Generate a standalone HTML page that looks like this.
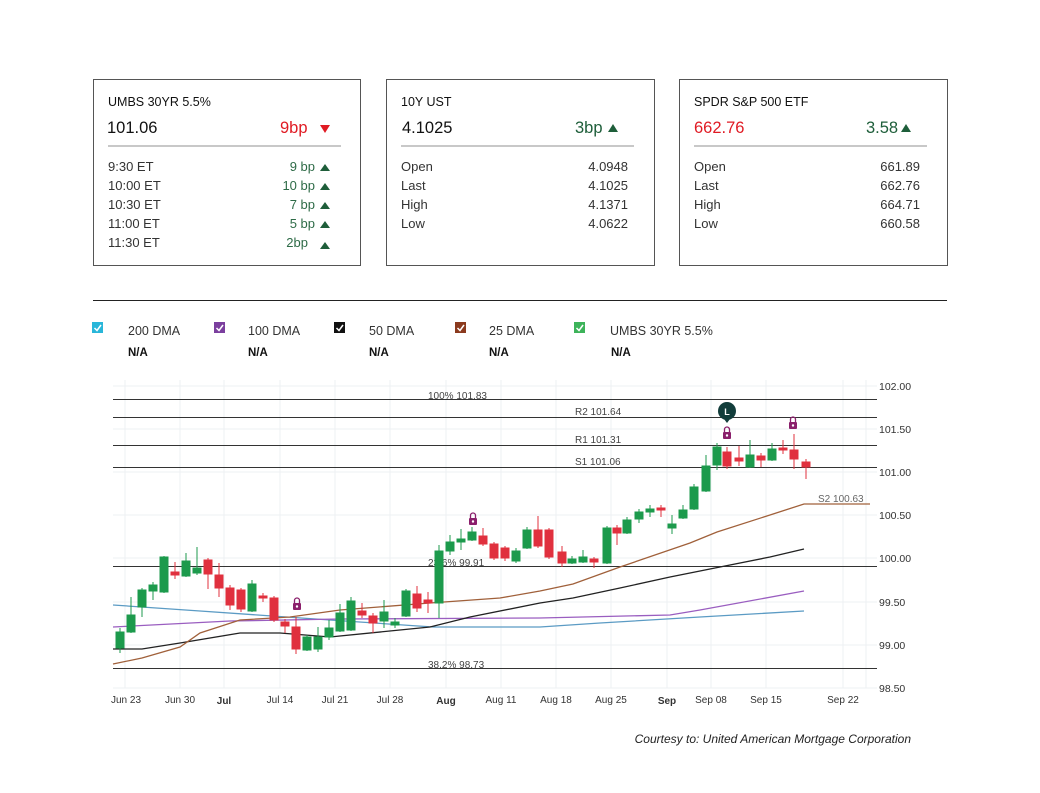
<!DOCTYPE html>
<html><head><meta charset="utf-8">
<style>
html,body{margin:0;padding:0;background:#fff;}
body{width:1040px;height:788px;position:relative;overflow:hidden;font-family:"Liberation Sans",sans-serif;}
</style></head>
<body>
<svg width="1040" height="788" viewBox="0 0 1040 788" xmlns="http://www.w3.org/2000/svg" font-family="Liberation Sans, sans-serif">
<!-- Cards -->
<g fill="none" stroke="#555" stroke-width="1">
<rect x="93.5" y="79.5" width="267" height="186"/>
<rect x="386.5" y="79.5" width="268" height="186"/>
<rect x="679.5" y="79.5" width="268" height="186"/>
</g>
<g stroke="#c8c8c8" stroke-width="2">
<line x1="108" y1="146" x2="341" y2="146"/>
<line x1="401" y1="146" x2="634" y2="146"/>
<line x1="694" y1="146" x2="927" y2="146"/>
</g>
<g font-size="12.5" fill="#111">
<text x="108" y="106">UMBS 30YR 5.5%</text>
<text x="401" y="106">10Y UST</text>
<text x="694" y="106">SPDR S&amp;P 500 ETF</text>
</g>
<g font-size="16.5">
<text x="107" y="133" fill="#111">101.06</text>
<text x="280" y="133" fill="#e01b24">9bp</text>
<text x="402" y="133" fill="#111">4.1025</text>
<text x="575" y="133" fill="#1e5e3a">3bp</text>
<text x="694" y="133" fill="#e01b24">662.76</text>
<text x="866" y="133" fill="#1e5e3a">3.58</text>
</g>
<polygon points="320,125 330,125 325,133" fill="#e01b24"/>
<polygon points="608,132 618,132 613,124" fill="#1e5e3a"/>
<polygon points="901,132 911,132 906,124" fill="#1e5e3a"/>
<g font-size="13" fill="#333">
<text x="108" y="171">9:30 ET</text><text x="108" y="190">10:00 ET</text><text x="108" y="209">10:30 ET</text><text x="108" y="228">11:00 ET</text><text x="108" y="247">11:30 ET</text>
<text x="401" y="171">Open</text><text x="401" y="190">Last</text><text x="401" y="209">High</text><text x="401" y="228">Low</text>
<text x="694" y="171">Open</text><text x="694" y="190">Last</text><text x="694" y="209">High</text><text x="694" y="228">Low</text>
</g>
<g font-size="13" fill="#333" text-anchor="end">
<text x="628" y="171">4.0948</text><text x="628" y="190">4.1025</text><text x="628" y="209">4.1371</text><text x="628" y="228">4.0622</text>
<text x="920" y="171">661.89</text><text x="920" y="190">662.76</text><text x="920" y="209">664.71</text><text x="920" y="228">660.58</text>
</g>
<g font-size="13" fill="#2e6b47" text-anchor="end">
<text x="315" y="171">9 bp</text><text x="315" y="190">10 bp</text><text x="315" y="209">7 bp</text><text x="315" y="228">5 bp</text><text x="308" y="247">2bp</text>
</g>
<g fill="#1e5e3a">
<polygon points="320,171 330,171 325,164"/><polygon points="320,190 330,190 325,183"/><polygon points="320,209 330,209 325,202"/><polygon points="320,228 330,228 325,221"/><polygon points="320,249 330,249 325,242"/>
</g>
<line x1="93" y1="300.5" x2="947" y2="300.5" stroke="#222" stroke-width="1"/>
<!-- Legend -->
<g>
<rect x="92" y="322" width="11" height="11" fill="#29b6d9"/>
<rect x="214" y="322" width="11" height="11" fill="#7b3f9e"/>
<rect x="334" y="322" width="11" height="11" fill="#111"/>
<rect x="455" y="322" width="11" height="11" fill="#8b3a1e"/>
<rect x="574" y="322" width="11" height="11" fill="#3db35a"/>
<g stroke="#fff" stroke-width="1.5" fill="none">
<polyline points="94.5,328 97,330.5 101,325"/><polyline points="216.5,328 219,330.5 223,325"/><polyline points="336.5,328 339,330.5 343,325"/><polyline points="457.5,328 460,330.5 464,325"/><polyline points="576.5,328 579,330.5 583,325"/>
</g>
<g font-size="12.5" fill="#333">
<text x="128" y="335">200 DMA</text><text x="248" y="335">100 DMA</text><text x="369" y="335">50 DMA</text><text x="489" y="335">25 DMA</text><text x="610" y="335">UMBS 30YR 5.5%</text>
</g>
<g font-size="11.5" fill="#111" font-weight="bold">
<text x="128" y="356">N/A</text><text x="248" y="356">N/A</text><text x="369" y="356">N/A</text><text x="489" y="356">N/A</text><text x="611" y="356">N/A</text>
</g>
</g>
<!-- Grid -->
<g stroke="#eef1f3" stroke-width="1">
<line x1="113" y1="386" x2="877" y2="386"/><line x1="113" y1="429" x2="877" y2="429"/><line x1="113" y1="472" x2="877" y2="472"/><line x1="113" y1="515" x2="877" y2="515"/><line x1="113" y1="558" x2="877" y2="558"/><line x1="113" y1="602" x2="877" y2="602"/><line x1="113" y1="645" x2="877" y2="645"/><line x1="113" y1="688" x2="877" y2="688"/>
<line x1="125" y1="380" x2="125" y2="688"/><line x1="180" y1="380" x2="180" y2="688"/><line x1="224" y1="380" x2="224" y2="688"/><line x1="280" y1="380" x2="280" y2="688"/><line x1="335" y1="380" x2="335" y2="688"/><line x1="390" y1="380" x2="390" y2="688"/><line x1="446" y1="380" x2="446" y2="688"/><line x1="501" y1="380" x2="501" y2="688"/><line x1="556" y1="380" x2="556" y2="688"/><line x1="611" y1="380" x2="611" y2="688"/><line x1="667" y1="380" x2="667" y2="688"/><line x1="711" y1="380" x2="711" y2="688"/><line x1="766" y1="380" x2="766" y2="688"/><line x1="843" y1="380" x2="843" y2="688"/><line x1="866" y1="380" x2="866" y2="688"/>
</g>
<!-- Level lines -->
<g stroke="#333" stroke-width="1">
<line x1="113" y1="399.5" x2="877" y2="399.5"/><line x1="113" y1="417.5" x2="877" y2="417.5"/><line x1="113" y1="445.5" x2="877" y2="445.5"/><line x1="113" y1="467.5" x2="877" y2="467.5"/><line x1="113" y1="566.5" x2="877" y2="566.5"/><line x1="113" y1="668.5" x2="877" y2="668.5"/>
</g>
<g font-size="10" fill="#444">
<text x="428" y="399">100% 101.83</text><text x="575" y="415">R2 101.64</text><text x="575" y="443">R1 101.31</text><text x="575" y="465">S1 101.06</text><text x="428" y="566">23.6% 99.91</text><text x="428" y="668">38.2% 98.73</text><text x="818" y="502" fill="#666">S2 100.63</text>
</g>
<!-- MAs -->
<g fill="none" stroke-width="1.3">
<path d="M113,605 L200,611 L330,620 L433,627 L540,627 L600,623 L700,617 L804,611" stroke="#5b9bc4"/>
<path d="M113,627 L230,621 L340,619 L540,618 L670,615 L700,610 L804,591" stroke="#9a5ec0"/>
<path d="M113,649 L142,649 L180,643 L240,633 L280,633 L330,637 L430,627 L470,617 L540,603 L573,598 L620,588 L670,577 L730,565 L770,557 L804,549" stroke="#222"/>
<path d="M113,664 L142,658 L180,647 L200,633 L240,620 L290,617 L340,610 L430,603 L500,598 L540,591 L573,584 L620,567 L690,543 L717,532 L770,515 L804,504 L870,504" stroke="#a0603a"/>
</g>
<!-- Candles -->
<g stroke-width="1">
<g stroke="#1c9a4c" fill="#1c9a4c">
<line x1="120" y1="628" x2="120" y2="653"/><rect x="116" y="632" width="8" height="16"/>
<line x1="131" y1="597" x2="131" y2="633"/><rect x="127" y="615" width="8" height="17"/>
<line x1="142" y1="588" x2="142" y2="617"/><rect x="138" y="590" width="8" height="17"/>
<line x1="153" y1="582" x2="153" y2="600"/><rect x="149" y="585" width="8" height="6"/>
<line x1="164" y1="556" x2="164" y2="593"/><rect x="160" y="557" width="8" height="35"/>
<line x1="186" y1="553" x2="186" y2="577"/><rect x="182" y="561" width="8" height="15"/>
<line x1="197" y1="547" x2="197" y2="575"/><rect x="193" y="568" width="8" height="5"/>
<line x1="252" y1="580" x2="252" y2="612"/><rect x="248" y="584" width="8" height="27"/>
<line x1="307" y1="635" x2="307" y2="651"/><rect x="303" y="637" width="8" height="13"/>
<line x1="318" y1="627" x2="318" y2="652"/><rect x="314" y="637" width="8" height="12"/>
<line x1="329" y1="620" x2="329" y2="640"/><rect x="325" y="628" width="8" height="9"/>
<line x1="340" y1="604" x2="340" y2="632"/><rect x="336" y="613" width="8" height="18"/>
<line x1="351" y1="597" x2="351" y2="631"/><rect x="347" y="601" width="8" height="29"/>
<line x1="384" y1="600" x2="384" y2="628"/><rect x="380" y="612" width="8" height="9"/>
<line x1="395" y1="618" x2="395" y2="628"/><rect x="391" y="622" width="8" height="3"/>
<line x1="406" y1="589" x2="406" y2="617"/><rect x="402" y="591" width="8" height="25"/>
<line x1="439" y1="545" x2="439" y2="618"/><rect x="435" y="551" width="8" height="52"/>
<line x1="450" y1="535" x2="450" y2="555"/><rect x="446" y="542" width="8" height="9"/>
<line x1="461" y1="529" x2="461" y2="550"/><rect x="457" y="539" width="8" height="3"/>
<line x1="472" y1="527" x2="472" y2="541"/><rect x="468" y="532" width="8" height="8"/>
<line x1="516" y1="548" x2="516" y2="563"/><rect x="512" y="551" width="8" height="10"/>
<line x1="527" y1="527" x2="527" y2="549"/><rect x="523" y="530" width="8" height="18"/>
<line x1="572" y1="556" x2="572" y2="564"/><rect x="568" y="559" width="8" height="4"/>
<line x1="583" y1="550" x2="583" y2="563"/><rect x="579" y="557" width="8" height="5"/>
<line x1="607" y1="526" x2="607" y2="564"/><rect x="603" y="528" width="8" height="35"/>
<line x1="627" y1="517" x2="627" y2="534"/><rect x="623" y="520" width="8" height="13"/>
<line x1="639" y1="509" x2="639" y2="523"/><rect x="635" y="512" width="8" height="7"/>
<line x1="650" y1="505" x2="650" y2="517"/><rect x="646" y="509" width="8" height="3"/>
<line x1="672" y1="515" x2="672" y2="534"/><rect x="668" y="524" width="8" height="4"/>
<line x1="683" y1="505" x2="683" y2="519"/><rect x="679" y="510" width="8" height="8"/>
<line x1="694" y1="484" x2="694" y2="510"/><rect x="690" y="487" width="8" height="22"/>
<line x1="706" y1="455" x2="706" y2="492"/><rect x="702" y="466" width="8" height="25"/>
<line x1="717" y1="443" x2="717" y2="470"/><rect x="713" y="447" width="8" height="18"/>
<line x1="750" y1="440" x2="750" y2="468"/><rect x="746" y="455" width="8" height="12"/>
<line x1="772" y1="443" x2="772" y2="461"/><rect x="768" y="449" width="8" height="11"/>
</g>
<g stroke="#e0303e" fill="#e0303e">
<line x1="175" y1="562" x2="175" y2="579"/><rect x="171" y="572" width="8" height="3"/>
<line x1="208" y1="558" x2="208" y2="589"/><rect x="204" y="560" width="8" height="14"/>
<line x1="219" y1="563" x2="219" y2="597"/><rect x="215" y="575" width="8" height="13"/>
<line x1="230" y1="585" x2="230" y2="610"/><rect x="226" y="588" width="8" height="17"/>
<line x1="241" y1="588" x2="241" y2="612"/><rect x="237" y="590" width="8" height="19"/>
<line x1="263" y1="593" x2="263" y2="602"/><rect x="259" y="596" width="8" height="2"/>
<line x1="274" y1="596" x2="274" y2="622"/><rect x="270" y="598" width="8" height="22"/>
<line x1="285" y1="619" x2="285" y2="633"/><rect x="281" y="622" width="8" height="4"/>
<line x1="296" y1="617" x2="296" y2="654"/><rect x="292" y="627" width="8" height="22"/>
<line x1="362" y1="603" x2="362" y2="618"/><rect x="358" y="611" width="8" height="4"/>
<line x1="373" y1="613" x2="373" y2="633"/><rect x="369" y="616" width="8" height="7"/>
<line x1="417" y1="586" x2="417" y2="612"/><rect x="413" y="594" width="8" height="14"/>
<line x1="428" y1="592" x2="428" y2="613"/><rect x="424" y="600" width="8" height="3"/>
<line x1="483" y1="528" x2="483" y2="546"/><rect x="479" y="536" width="8" height="8"/>
<line x1="494" y1="542" x2="494" y2="560"/><rect x="490" y="544" width="8" height="14"/>
<line x1="505" y1="546" x2="505" y2="561"/><rect x="501" y="548" width="8" height="10"/>
<line x1="538" y1="516" x2="538" y2="548"/><rect x="534" y="530" width="8" height="16"/>
<line x1="549" y1="528" x2="549" y2="559"/><rect x="545" y="530" width="8" height="27"/>
<line x1="562" y1="546" x2="562" y2="567"/><rect x="558" y="552" width="8" height="11"/>
<line x1="594" y1="557" x2="594" y2="568"/><rect x="590" y="559" width="8" height="3"/>
<line x1="617" y1="525" x2="617" y2="545"/><rect x="613" y="528" width="8" height="5"/>
<line x1="661" y1="505" x2="661" y2="517"/><rect x="657" y="508" width="8" height="2"/>
<line x1="727" y1="447" x2="727" y2="469"/><rect x="723" y="452" width="8" height="14"/>
<line x1="739" y1="446" x2="739" y2="466"/><rect x="735" y="458" width="8" height="3"/>
<line x1="761" y1="453" x2="761" y2="467"/><rect x="757" y="456" width="8" height="4"/>
<line x1="783" y1="440" x2="783" y2="454"/><rect x="779" y="448" width="8" height="2"/>
<line x1="794" y1="434" x2="794" y2="469"/><rect x="790" y="450" width="8" height="9"/>
<line x1="806" y1="459" x2="806" y2="479"/><rect x="802" y="462" width="8" height="5"/>
</g>
</g>
<!-- Lock icons -->
<g fill="#8a1f6b">
<rect x="293" y="603" width="8" height="7" rx="1"/><path d="M294.5,603 v-2.5 a2.5,2.5 0 0 1 5,0 v2.5" fill="none" stroke="#8a1f6b" stroke-width="1.3"/>
<rect x="469" y="518" width="8" height="7" rx="1"/><path d="M470.5,518 v-2.5 a2.5,2.5 0 0 1 5,0 v2.5" fill="none" stroke="#8a1f6b" stroke-width="1.3"/>
<rect x="723" y="432" width="8" height="7" rx="1"/><path d="M724.5,432 v-2.5 a2.5,2.5 0 0 1 5,0 v2.5" fill="none" stroke="#8a1f6b" stroke-width="1.3"/>
<rect x="789" y="422" width="8" height="7" rx="1"/><path d="M790.5,422 v-2.5 a2.5,2.5 0 0 1 5,0 v2.5" fill="none" stroke="#8a1f6b" stroke-width="1.3"/>
</g>
<g fill="#fff"><circle cx="297" cy="606.5" r="1.2"/><circle cx="473" cy="521.5" r="1.2"/><circle cx="727" cy="435.5" r="1.2"/><circle cx="793" cy="425.5" r="1.2"/></g>
<circle cx="727" cy="411" r="9" fill="#123d3b"/><polygon points="724,419 730,419 727,423" fill="#123d3b"/>
<text x="727" y="415" font-size="9" font-weight="bold" fill="#fff" text-anchor="middle">L</text>
<!-- Y labels -->
<g font-size="10.5" fill="#333">
<text x="879" y="390">102.00</text><text x="879" y="433">101.50</text><text x="879" y="476">101.00</text><text x="879" y="519">100.50</text><text x="879" y="562">100.00</text><text x="879" y="606">99.50</text><text x="879" y="649">99.00</text><text x="879" y="692">98.50</text>
</g>
<!-- X labels -->
<g font-size="10" fill="#333" text-anchor="middle">
<text x="126" y="703">Jun 23</text><text x="180" y="703">Jun 30</text><text x="224" y="704" font-weight="bold">Jul</text><text x="280" y="703">Jul 14</text><text x="335" y="703">Jul 21</text><text x="390" y="703">Jul 28</text><text x="446" y="704" font-weight="bold">Aug</text><text x="501" y="703">Aug 11</text><text x="556" y="703">Aug 18</text><text x="611" y="703">Aug 25</text><text x="667" y="704" font-weight="bold">Sep</text><text x="711" y="703">Sep 08</text><text x="766" y="703">Sep 15</text><text x="843" y="703">Sep 22</text>
</g>
<text x="911" y="743" font-size="12" font-style="italic" fill="#222" text-anchor="end">Courtesy to: United American Mortgage Corporation</text>
</svg>
</body></html>
